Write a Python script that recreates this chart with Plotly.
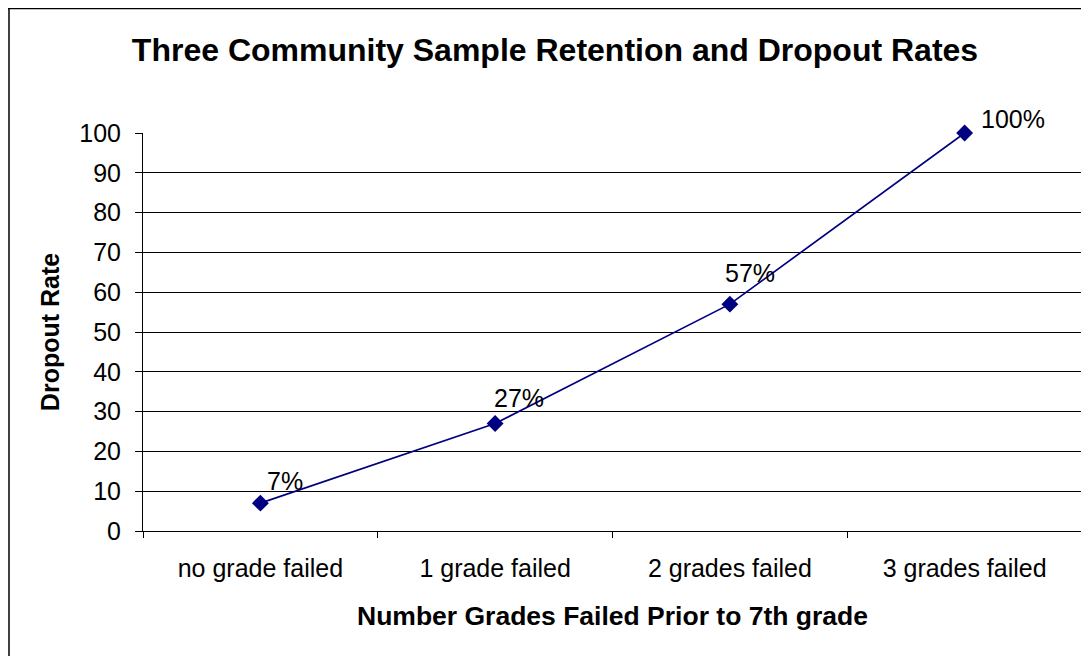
import plotly.graph_objects as go

categories = ["no grade failed", "1 grade failed", "2 grades failed", "3 grades failed"]
dropout_rate = [7, 27, 57, 100]
labels = ["7%", "27%", "57%", "100%"]

# hand-placed label offsets (px), as in the source chart
label_dx = [25, 24, 20, 48]
label_dy = [22, 26, 31, 14]

FONT = "Liberation Sans, Arial, sans-serif"
NAVY = "#000080"

fig = go.Figure(
    go.Scatter(
        x=categories,
        y=dropout_rate,
        mode="lines+markers",
        line=dict(color=NAVY, width=1.7),
        marker=dict(symbol="diamond", size=13, color=NAVY),
        cliponaxis=False,
        hoverinfo="skip",
    )
)

for cat, val, lab, dx, dy in zip(categories, dropout_rate, labels, label_dx, label_dy):
    fig.add_annotation(
        x=cat, y=val, text=lab, showarrow=False,
        xanchor="center", yanchor="middle", xshift=dx, yshift=dy,
        font=dict(family=FONT, size=25, color="black"),
    )

# page body adds an 8px offset, so the figure is laid out 8px up/left
L, T, R, B = 135, 125, 1074, 523

fig.update_layout(
    width=1089,
    height=656,
    margin=dict(l=L, r=1089 - R, t=T, b=656 - B),
    paper_bgcolor="white",
    plot_bgcolor="white",
    showlegend=False,
    font=dict(family=FONT, color="black"),
    title=dict(
        text="<b>Three Community Sample Retention and Dropout Rates</b>",
        font=dict(size=32, family=FONT, color="black"),
        x=547 / 1089, xref="container", xanchor="center",
        y=1 - 42 / 656, yref="container", yanchor="middle",
    ),
)

fig.update_xaxes(
    type="category",
    range=[-0.5, 3.5],
    showgrid=False,
    showline=True,
    linecolor="black",
    linewidth=1,
    ticks="outside",
    tickson="boundaries",
    ticklen=6,
    tickcolor="black",
    tickfont=dict(size=25),
    ticklabelstandoff=15,
    title=dict(text="<b>Number Grades Failed Prior to 7th grade</b>",
               font=dict(size=26.5), standoff=25),
)

fig.update_yaxes(
    range=[0, 100],
    dtick=10,
    showgrid=True,
    gridcolor="black",
    gridwidth=1,
    zeroline=False,
    showline=True,
    linecolor="black",
    linewidth=1,
    ticks="outside",
    ticklen=7,
    tickcolor="black",
    tickfont=dict(size=25),
    ticklabelstandoff=9,
    title=dict(text="<b>Dropout Rate</b>", font=dict(size=25), standoff=12),
)

pw, ph = R - L, B - T
fx = -L / pw
fy = (B - 0.5) / ph

# right edge of the plot box (grey) and the outer chart frame (left and top)
fig.add_shape(type="line", xref="paper", yref="paper", x0=1, x1=1, y0=0, y1=1,
              line=dict(color="#808080", width=1))
fig.add_shape(type="line", xref="paper", yref="paper",
              x0=fx + 1 / pw, x1=fx + 1 / pw, y0=-0.5, y1=fy,
              line=dict(color="black", width=1.5))
fig.add_shape(type="line", xref="paper", yref="paper",
              x0=fx, x1=1.1, y0=fy, y1=fy,
              line=dict(color="black", width=1.5))

fig.write_html("out.html")
